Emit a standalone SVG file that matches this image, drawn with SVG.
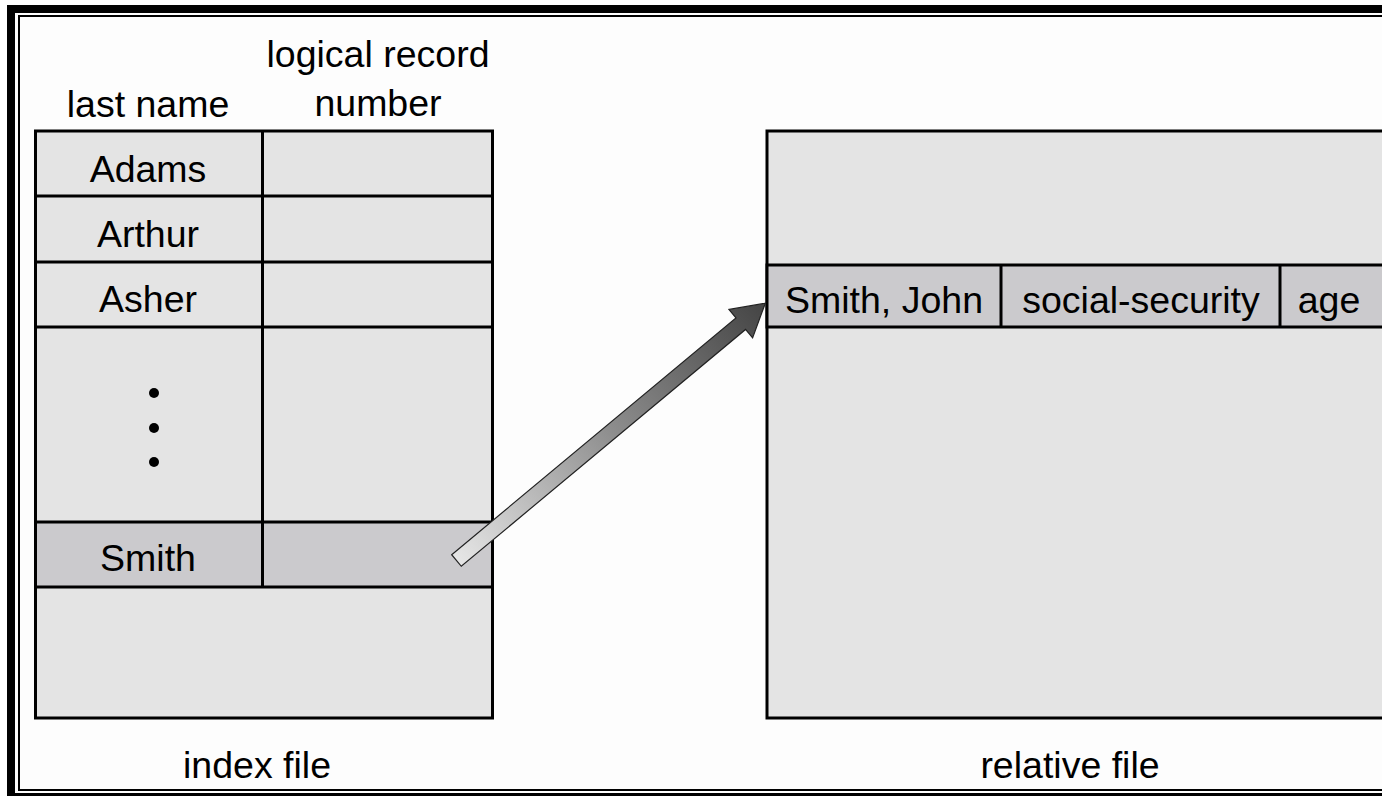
<svg xmlns="http://www.w3.org/2000/svg" width="1382" height="796" viewBox="0 0 1382 796">
  <defs>
    <linearGradient id="arrowGrad" x1="0" y1="0" x2="1" y2="0">
      <stop offset="0" stop-color="#e6e6e6"/>
      <stop offset="0.5" stop-color="#8e8e8e"/>
      <stop offset="1" stop-color="#444444"/>
    </linearGradient>
  </defs>
  <style>
    .cell { fill: #e4e4e4; stroke: #000; stroke-width: 3; }
    .hl { fill: #cbcacd; stroke: #000; stroke-width: 3; }
    .ln { stroke: #000; stroke-width: 3; fill: none; }
    text { font-family: "Liberation Sans", Arial, sans-serif; font-size: 37.5px; fill: #000; text-anchor: middle; }
  </style>
  <rect x="0" y="0" width="1382" height="796" fill="#fdfdfd"/>
  <g id="frame">
    <rect x="11" y="9" width="1420" height="788" fill="none" stroke="#000" stroke-width="8"/>
    <rect x="19" y="16" width="1410" height="774" fill="none" stroke="#000" stroke-width="2"/>
  </g>
  <g id="index-file">
    <text x="378" y="67">logical record</text>
    <text x="378" y="116">number</text>
    <text x="148" y="117">last name</text>
    <rect class="cell" x="35.5" y="131" width="457" height="587"/>
    <rect class="hl" x="35.5" y="522" width="457" height="65"/>
    <line class="ln" x1="35.5" y1="196" x2="492.5" y2="196"/>
    <line class="ln" x1="35.5" y1="262" x2="492.5" y2="262"/>
    <line class="ln" x1="35.5" y1="327" x2="492.5" y2="327"/>
    <line class="ln" x1="262.5" y1="131" x2="262.5" y2="587"/>
    <text x="148" y="182">Adams</text>
    <text x="148" y="247">Arthur</text>
    <text x="148" y="312">Asher</text>
    <circle cx="154" cy="393" r="5"/>
    <circle cx="154" cy="428" r="5"/>
    <circle cx="154" cy="462" r="5"/>
    <text x="148" y="571">Smith</text>
    <text x="257" y="778">index file</text>
  </g>
  <g id="relative-file">
    <rect class="cell" x="767" y="131" width="640" height="587"/>
    <rect class="hl" x="767" y="265" width="640" height="62"/>
    <line class="ln" x1="1001" y1="265" x2="1001" y2="327"/>
    <line class="ln" x1="1280" y1="265" x2="1280" y2="327"/>
    <text x="884" y="313">Smith, John</text>
    <text x="1141" y="313">social-security</text>
    <text x="1329" y="313">age</text>
    <text x="1070" y="778">relative file</text>
  </g>
  <g id="connectors">
    <g transform="translate(456.5,560.5) rotate(-39.8)">
      <polygon points="0,-7.5 370,-7.5 370,-18.5 402,0 370,18.5 370,7.5 0,7.5" fill="url(#arrowGrad)" stroke="#222" stroke-width="1.2" stroke-linejoin="miter"/>
    </g>
  </g>
</svg>
